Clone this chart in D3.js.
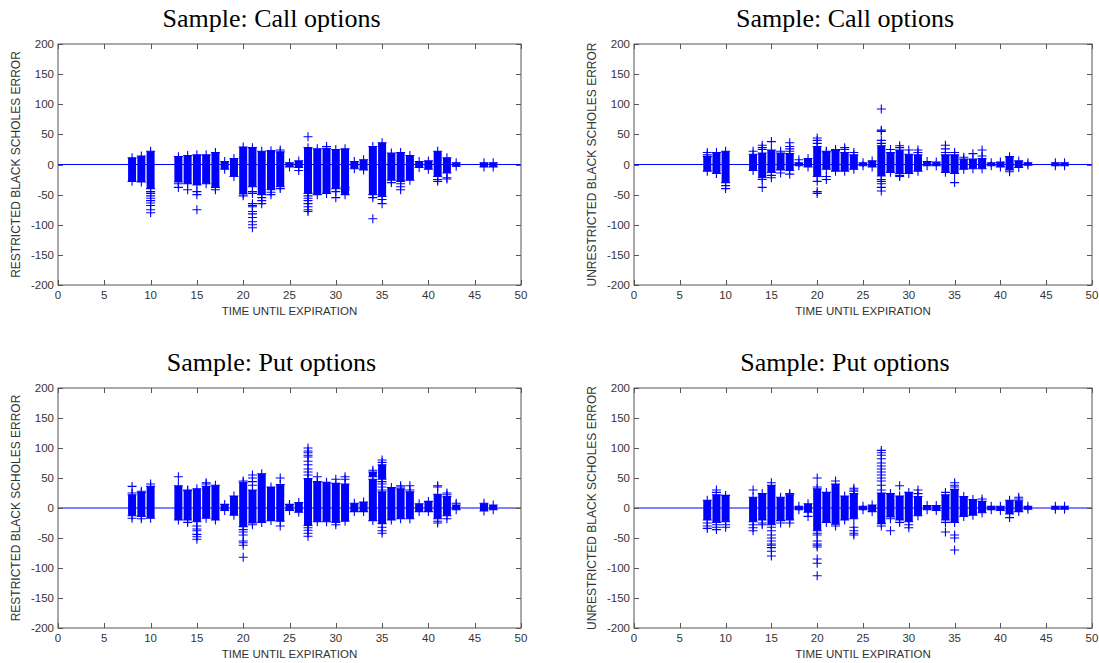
<!DOCTYPE html>
<html>
<head>
<meta charset="utf-8">
<script src="https://cdn.jsdelivr.net/npm/d3@7"></script>
<style>
  body { margin: 0; background: #fff; }
  svg { display: block; }
</style>
</head>
<body>
<div id="chart"></div>
<script>
// days that have observations (shared by all four panels)
var days = [8, 9, 10, 13, 14, 15, 16, 17, 18, 19, 20, 21, 22, 23, 24, 25, 26, 27, 28, 29,
            30, 31, 32, 33, 34, 35, 36, 37, 38, 39, 40, 41, 42, 43, 46, 47];

var xTicks = [0, 5, 10, 15, 20, 25, 30, 35, 40, 45, 50];
var yTicks = [200, 150, 100, 50, 0, -50, -100, -150, -200];

// call options, restricted: dense band (top / bottom) + isolated points
var callRHi = [11, 14, 22, 13, 15, 16, 16, 20, 5, 10, 29, 28, 22, 23, 21, 3, 6, 28, 26, 27,
               25, 26, 5, 8, 30, 36, 19, 20, 15, 5, 6, 22, 11, 3, 3, 3];
var callRLo = [-28, -29, -40, -29, -32, -34, -32, -38, -8, -20, -49, -37, -50, -42, -37, -4, -5, -48, -50, -48,
               -40, -50, -7, -9, -50, -53, -26, -28, -26, -5, -8, -20, -14, -3, -4, -4];
var callRPts = [[10,-45],[10,-48],[10,-52],[10,-56],[10,-60],[10,-64],[10,-68],[10,-75],[10,-80],
  [13,-32],[13,-38],[14,-42],[15,-45],[15,-50],[15,-75],[17,-42],[20,-52],
  [21,-45],[21,-48],[21,-65],[21,-68],[21,-70],[21,-78],[21,-82],[21,-88],[21,-95],[21,-100],[21,-105],
  [22,-55],[22,-60],[22,-65],[23,-46],[23,-50],[24,24],[24,-40],[26,-10],
  [27,46],[27,-52],[27,-56],[27,-60],[27,-65],[27,-70],[27,-75],[27,-78],[29,30],
  [30,-45],[30,-55],[31,-38],[31,-42],[34,-55],[34,-90],[35,-58],[35,-65],[36,-30],
  [37,-32],[37,-37],[37,-42],[41,-25],[41,-28],[42,-22],[42,-24]];
var callRExtra = [];

// call options, unrestricted
var callUHi = [13, 20, 22, 17, 19, 24, 19, 18, 3, 10, 30, 21, 23, 20, 16, 3, 6, 31, 20, 24,
               17, 16, 5, 4, 16, 16, 9, 9, 10, 3, 4, 13, 6, 3, 3, 3];
var callULo = [-11, -15, -30, -10, -22, -13, -9, -10, -2, -4, -20, -8, -11, -11, -8, -2, -4, -19, -13, -15,
               -15, -11, -2, -2, -13, -15, -8, -7, -7, -2, -4, -9, -5, -1, -2, -2];
var callUPts = [[8,16],[8,20],[10,-35],[10,-40],[13,22],[14,25],[14,28],[14,32],[14,-25],[14,-38],
  [15,38],[15,-18],[15,-22],[16,22],[16,-14],[17,22],[17,26],[17,30],[17,36],[17,-16],[18,8],
  [20,35],[20,40],[20,44],[20,-28],[20,-45],[20,-48],[21,22],[21,-20],[21,-25],[22,25],[23,25],[23,28],[24,20],
  [27,35],[27,40],[27,55],[27,57],[27,92],[27,-25],[27,-28],[27,-32],[27,-38],[27,-44],
  [28,25],[29,28],[29,31],[29,-18],[29,-20],[30,24],[31,20],[31,24],[34,20],[34,26],[34,32],
  [35,20],[35,-30],[36,12],[37,18],[38,14],[38,24],[41,-12]];
var callUExtra = [];

// put options, restricted
var putRHi = [22, 26, 36, 37, 29, 32, 36, 38, 6, 20, 43, 30, 57, 35, 39, 6, 9, 49, 44, 43,
              41, 40, 8, 10, 48, 27, 34, 32, 27, 7, 11, 23, 19, 5, 8, 5];
var putRLo = [-13, -14, -17, -20, -20, -23, -17, -20, -4, -12, -31, -25, -24, -21, -22, -4, -7, -29, -23, -23,
              -24, -22, -6, -6, -21, -26, -20, -18, -18, -6, -6, -18, -13, -3, -5, -3];
var putRPts = [[8,25],[8,36],[8,-17],[9,28],[9,-18],[10,40],[13,52],[14,30],[14,-24],
  [15,-30],[15,-35],[15,-38],[15,-44],[15,-48],[15,-52],[16,40],[16,42],
  [20,45],[20,-36],[20,-40],[20,-45],[20,-55],[20,-58],[20,-62],[20,-82],
  [21,38],[21,44],[21,50],[21,55],[21,-28],[24,50],[24,-30],
  [27,55],[27,60],[27,65],[27,72],[27,78],[27,85],[27,88],[27,92],[27,95],[27,100],
  [27,-33],[27,-37],[27,-42],[27,-47],[28,52],[30,48],[30,-28],[31,48],[31,52],[34,63],
  [35,30],[35,35],[35,40],[35,44],[35,76],[35,80],[35,-32],[35,-38],[35,-42],
  [37,35],[37,37],[38,30],[38,37],[41,35],[41,37],[41,-22],[41,-25],[42,22],[42,25],[42,-18],[43,8]];
var putRExtra = [[34, 52, 60], [35, 48, 72]];

// put options, unrestricted
var putUHi = [13, 22, 21, 18, 24, 38, 18, 22, 3, 7, 32, 26, 40, 20, 24, 3, 5, 25, 24, 20,
              26, 19, 4, 4, 22, 31, 19, 14, 11, 3, 3, 13, 12, 3, 3, 3];
var putULo = [-20, -24, -23, -23, -20, -28, -21, -20, -3, -7, -38, -24, -27, -20, -18, -3, -6, -26, -15, -20,
              -23, -13, -3, -4, -20, -24, -14, -12, -8, -3, -4, -10, -6, -2, -2, -2];
var putUPts = [[8,-25],[8,-30],[8,-34],[9,26],[9,30],[9,-28],[9,-32],[9,-36],[10,-28],[10,-32],
  [13,30],[13,-28],[13,-33],[13,-38],[14,-25],[14,-28],
  [15,42],[15,-32],[15,-38],[15,-45],[15,-50],[15,-55],[15,-60],[15,-62],[15,-66],[15,-72],[15,-80],
  [16,-25],[17,24],[17,-25],[19,-14],
  [20,35],[20,50],[20,-42],[20,-45],[20,-55],[20,-60],[20,-62],[20,-65],[20,-85],[20,-92],[20,-113],
  [22,45],[22,-30],[24,28],[24,30],[24,33],[24,-32],[24,-38],[24,-42],[24,-45],
  [27,30],[27,38],[27,45],[27,50],[27,55],[27,60],[27,65],[27,70],[27,75],[27,82],[27,88],[27,92],[27,96],[27,-30],
  [28,-18],[28,-38],[29,37],[29,-24],[30,-28],[30,-33],[31,24],[31,30],[34,26],[34,-24],[34,-40],
  [35,35],[35,38],[35,42],[35,-45],[35,-50],[35,-70],[38,15],[41,-16],[42,15],[42,18]];
var putUExtra = [];

// size and colours
var width = 1099;
var height = 663;
var mark_color = "#0000ff";
var axis_color = "#555";
var half = 4.5;   // half width of a "+" marker
var band_w = 8;   // width of a dense band of markers

var panels = [
  {title: "Sample: Call options", ylabel: "RESTRICTED BLACK SCHOLES ERROR",
   hi: callRHi, lo: callRLo, pts: callRPts, extra: callRExtra,
   left: 58, right: 521, top: 44, bottom: 285},
  {title: "Sample: Call options", ylabel: "UNRESTRICTED BLACK SCHOLES ERROR",
   hi: callUHi, lo: callULo, pts: callUPts, extra: callUExtra,
   left: 634, right: 1092, top: 44, bottom: 285},
  {title: "Sample: Put options", ylabel: "RESTRICTED BLACK SCHOLES ERROR",
   hi: putRHi, lo: putRLo, pts: putRPts, extra: putRExtra,
   left: 58, right: 521, top: 388, bottom: 628},
  {title: "Sample: Put options", ylabel: "UNRESTRICTED BLACK SCHOLES ERROR",
   hi: putUHi, lo: putULo, pts: putUPts, extra: putUExtra,
   left: 634, right: 1092, top: 388, bottom: 628}
];

var svg = d3.select("#chart")
            .append("svg")
            .attr("width", width)
            .attr("height", height);

function plus(g, x, y) {
  g.append("path")
   .attr("d", "M" + (x - half) + "," + y + "H" + (x + half) +
              "M" + x + "," + (y - half) + "V" + (y + half))
   .attr("stroke", mark_color)
   .attr("stroke-width", 1.1)
   .attr("fill", "none");
}

panels.forEach(function(p) {
  var xScale = d3.scaleLinear().domain([0, 50]).range([p.left, p.right]);
  var yScale = d3.scaleLinear().domain([-200, 200]).range([p.bottom, p.top]);
  var g = svg.append("g");

  // title
  g.append("text")
   .attr("x", (p.left + p.right) / 2 - 18)
   .attr("y", p.top - 17)
   .attr("text-anchor", "middle")
   .attr("font-family", "Liberation Serif, Times New Roman, serif")
   .attr("font-size", 26)
   .attr("fill", "#000")
   .text(p.title);

  // zero line
  g.append("line")
   .attr("x1", xScale(0)).attr("x2", xScale(50))
   .attr("y1", yScale(0)).attr("y2", yScale(0))
   .attr("stroke", mark_color)
   .attr("stroke-width", 1);

  // dense bands of markers
  var bands = days.map(function(d, i) { return [d, p.lo[i], p.hi[i]]; }).concat(p.extra);
  g.selectAll(".band")
   .data(bands)
   .enter().append("rect")
   .attr("x", function(d) { return xScale(d[0]) - band_w / 2; })
   .attr("width", band_w)
   .attr("y", function(d) { return yScale(d[2]); })
   .attr("height", function(d) { return yScale(d[1]) - yScale(d[2]); })
   .attr("fill", mark_color);
  bands.forEach(function(d) {
    plus(g, xScale(d[0]), yScale(d[1]));
    plus(g, xScale(d[0]), yScale(d[2]));
  });

  // isolated points
  p.pts.forEach(function(d) {
    plus(g, xScale(d[0]), yScale(d[1]));
  });

  // box and inward ticks
  g.append("rect")
   .attr("x", p.left).attr("y", p.top)
   .attr("width", p.right - p.left).attr("height", p.bottom - p.top)
   .attr("fill", "none")
   .attr("stroke", axis_color)
   .attr("stroke-width", 1);
  xTicks.forEach(function(t) {
    var x = Math.round(xScale(t)) + 0.5;
    g.append("path")
     .attr("d", "M" + x + "," + p.bottom + "V" + (p.bottom - 5) +
                "M" + x + "," + p.top + "V" + (p.top + 5))
     .attr("stroke", axis_color);
    g.append("text")
     .attr("x", xScale(t))
     .attr("y", p.bottom + 14)
     .attr("text-anchor", "middle")
     .attr("font-family", "Liberation Sans, Arial, sans-serif")
     .attr("font-size", 11.5)
     .attr("fill", "#333")
     .text(t);
  });
  yTicks.forEach(function(t) {
    var y = Math.round(yScale(t)) + 0.5;
    g.append("path")
     .attr("d", "M" + p.left + "," + y + "H" + (p.left + 5) +
                "M" + p.right + "," + y + "H" + (p.right - 5))
     .attr("stroke", axis_color);
    g.append("text")
     .attr("x", p.left - 4)
     .attr("y", yScale(t) + 4)
     .attr("text-anchor", "end")
     .attr("font-family", "Liberation Sans, Arial, sans-serif")
     .attr("font-size", 11.5)
     .attr("fill", "#333")
     .text(t);
  });

  // axis labels
  g.append("text")
   .attr("x", (p.left + p.right) / 2)
   .attr("y", p.bottom + 30)
   .attr("text-anchor", "middle")
   .attr("font-family", "Liberation Sans, Arial, sans-serif")
   .attr("font-size", 11.5)
   .attr("fill", "#333")
   .text("TIME UNTIL EXPIRATION");
  g.append("text")
   .attr("transform", "translate(" + (p.left - 38) + "," + ((p.top + p.bottom) / 2) + ") rotate(-90)")
   .attr("text-anchor", "middle")
   .attr("font-family", "Liberation Sans, Arial, sans-serif")
   .attr("font-size", 12)
   .attr("fill", "#333")
   .text(p.ylabel);
});
</script>
</body>
</html>
